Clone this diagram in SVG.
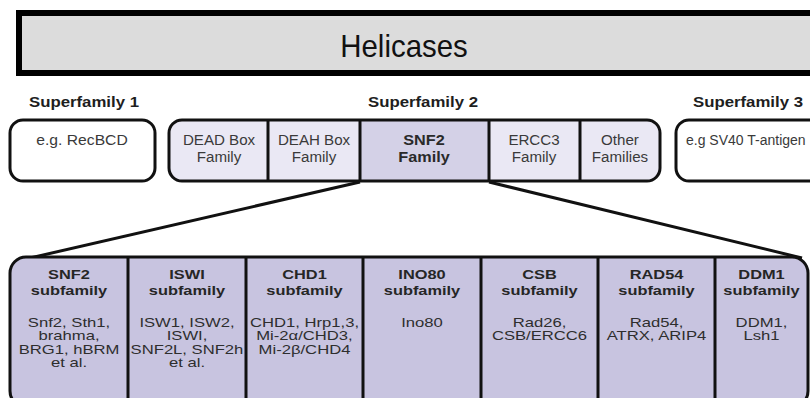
<svg xmlns="http://www.w3.org/2000/svg" width="810" height="398" viewBox="0 0 810 398">
<style>
.t{font-family:"Liberation Sans",Arial,sans-serif;fill:#2a2a2a;text-anchor:middle}
.b{font-weight:bold}
.top{font-size:14px;fill:#3a3a3a}
.sf{font-size:15px;font-weight:bold;fill:#1e1e1e}
.hd{font-size:12.8px;font-weight:bold;fill:#262626}
.bd{font-size:13px;fill:#2e2e2e}
.box{stroke:#111;stroke-width:3}
.div{stroke:#111;stroke-width:3}
</style>
<rect width="810" height="398" fill="#ffffff"/>
<g id="banner">
<rect x="19" y="13" width="800" height="60" fill="#dcdcdc" stroke="#000" stroke-width="6"/>
<g transform="translate(404 0) scale(0.92 1)"><text class="t" x="0" y="57" style="font-size:32px;fill:#111">Helicases</text></g>
</g>
<g id="labels">
<g transform="translate(84 0) scale(1.12 1)"><text class="t sf" x="0" y="107">Superfamily 1</text></g>
<g transform="translate(423 0) scale(1.12 1)"><text class="t sf" x="0" y="107">Superfamily 2</text></g>
<g transform="translate(748 0) scale(1.12 1)"><text class="t sf" x="0" y="107">Superfamily 3</text></g>
</g>
<g id="connectors">
<line x1="360" y1="182" x2="30" y2="258" stroke="#111" stroke-width="3"/>
<line x1="489" y1="182" x2="802" y2="258" stroke="#111" stroke-width="3"/>
</g>
<g id="sf1">
<rect class="box" x="10" y="120" width="145" height="61" rx="13" fill="#fff"/>
<g transform="translate(82 0) scale(1.12 1)"><text class="t top" x="0" y="145">e.g. RecBCD</text></g>
</g>
<g id="sf2">
<rect x="169" y="120" width="491" height="61" rx="13" fill="#eae8f4"/>
<rect x="360" y="120" width="129" height="61" fill="#d4d1e7"/>
<line class="div" x1="268" y1="120" x2="268" y2="181"/>
<line class="div" x1="360" y1="120" x2="360" y2="181"/>
<line class="div" x1="489" y1="120" x2="489" y2="181"/>
<line class="div" x1="580" y1="120" x2="580" y2="181"/>
<rect class="box" x="169" y="120" width="491" height="61" rx="13" fill="none"/>
<g id="dead" transform="translate(219 0) scale(1.08 1)"><text class="t top" x="0" y="145">DEAD Box</text><text class="t top" x="0" y="162">Family</text></g>
<g id="deah" transform="translate(314 0) scale(1.08 1)"><text class="t top" x="0" y="145">DEAH Box</text><text class="t top" x="0" y="162">Family</text></g>
<g id="snf2fam" transform="translate(424 0) scale(1.12 1)"><text class="t top b" x="0" y="145" style="font-size:14.5px;fill:#2a2a2a">SNF2</text><text class="t top b" x="0" y="162" style="font-size:14.5px;fill:#2a2a2a">Family</text></g>
<g id="ercc3" transform="translate(534 0) scale(1.08 1)"><text class="t top" x="0" y="145">ERCC3</text><text class="t top" x="0" y="162">Family</text></g>
<g id="other" transform="translate(620 0) scale(1.08 1)"><text class="t top" x="0" y="145">Other</text><text class="t top" x="0" y="162">Families</text></g>
</g>
<g id="sf3">
<rect class="box" x="676" y="120" width="200" height="61" rx="13" fill="#fff"/>
<text class="t top" x="686" y="145" style="text-anchor:start">e.g SV40 T-antigen</text>
</g>
<g id="subfamilies">
<rect x="10" y="257" width="798" height="150" rx="16" fill="#c8c4e0"/>
<line class="div" x1="128" y1="257" x2="128" y2="400"/>
<line class="div" x1="246" y1="257" x2="246" y2="400"/>
<line class="div" x1="363" y1="257" x2="363" y2="400"/>
<line class="div" x1="481" y1="257" x2="481" y2="400"/>
<line class="div" x1="598" y1="257" x2="598" y2="400"/>
<line class="div" x1="715" y1="257" x2="715" y2="400"/>
<rect class="box" x="10" y="257" width="798" height="150" rx="16" fill="none"/>
<g id="snf2sub" transform="translate(69 0) scale(1.28 1)"><text class="t hd" x="0" y="279">SNF2</text><text class="t hd" x="0" y="295">subfamily</text><text class="t bd" x="0" y="327">Snf2, Sth1,</text><text class="t bd" x="0" y="340.5">brahma,</text><text class="t bd" x="0" y="354">BRG1, hBRM</text><text class="t bd" x="0" y="367.5">et al.</text></g>
<g id="iswi" transform="translate(187 0) scale(1.28 1)"><text class="t hd" x="0" y="279">ISWI</text><text class="t hd" x="0" y="295">subfamily</text><text class="t bd" x="0" y="327">ISW1, ISW2,</text><text class="t bd" x="0" y="340.5">ISWI,</text><text class="t bd" x="0" y="354">SNF2L, SNF2h</text><text class="t bd" x="0" y="367.5">et al.</text></g>
<g id="chd1" transform="translate(304.5 0) scale(1.28 1)"><text class="t hd" x="0" y="279">CHD1</text><text class="t hd" x="0" y="295">subfamily</text><text class="t bd" x="0" y="327">CHD1, Hrp1,3,</text><text class="t bd" x="0" y="340.5">Mi-2α/CHD3,</text><text class="t bd" x="0" y="354">Mi-2β/CHD4</text></g>
<g id="ino80" transform="translate(422 0) scale(1.28 1)"><text class="t hd" x="0" y="279">INO80</text><text class="t hd" x="0" y="295">subfamily</text><text class="t bd" x="0" y="327">Ino80</text></g>
<g id="csb" transform="translate(539.5 0) scale(1.28 1)"><text class="t hd" x="0" y="279">CSB</text><text class="t hd" x="0" y="295">subfamily</text><text class="t bd" x="0" y="327">Rad26,</text><text class="t bd" x="0" y="340.5">CSB/ERCC6</text></g>
<g id="rad54" transform="translate(656.5 0) scale(1.28 1)"><text class="t hd" x="0" y="279">RAD54</text><text class="t hd" x="0" y="295">subfamily</text><text class="t bd" x="0" y="327">Rad54,</text><text class="t bd" x="0" y="340.5">ATRX, ARIP4</text></g>
<g id="ddm1" transform="translate(761.5 0) scale(1.28 1)"><text class="t hd" x="0" y="279">DDM1</text><text class="t hd" x="0" y="295">subfamily</text><text class="t bd" x="0" y="327">DDM1,</text><text class="t bd" x="0" y="340.5">Lsh1</text></g>
</g>
</svg>
